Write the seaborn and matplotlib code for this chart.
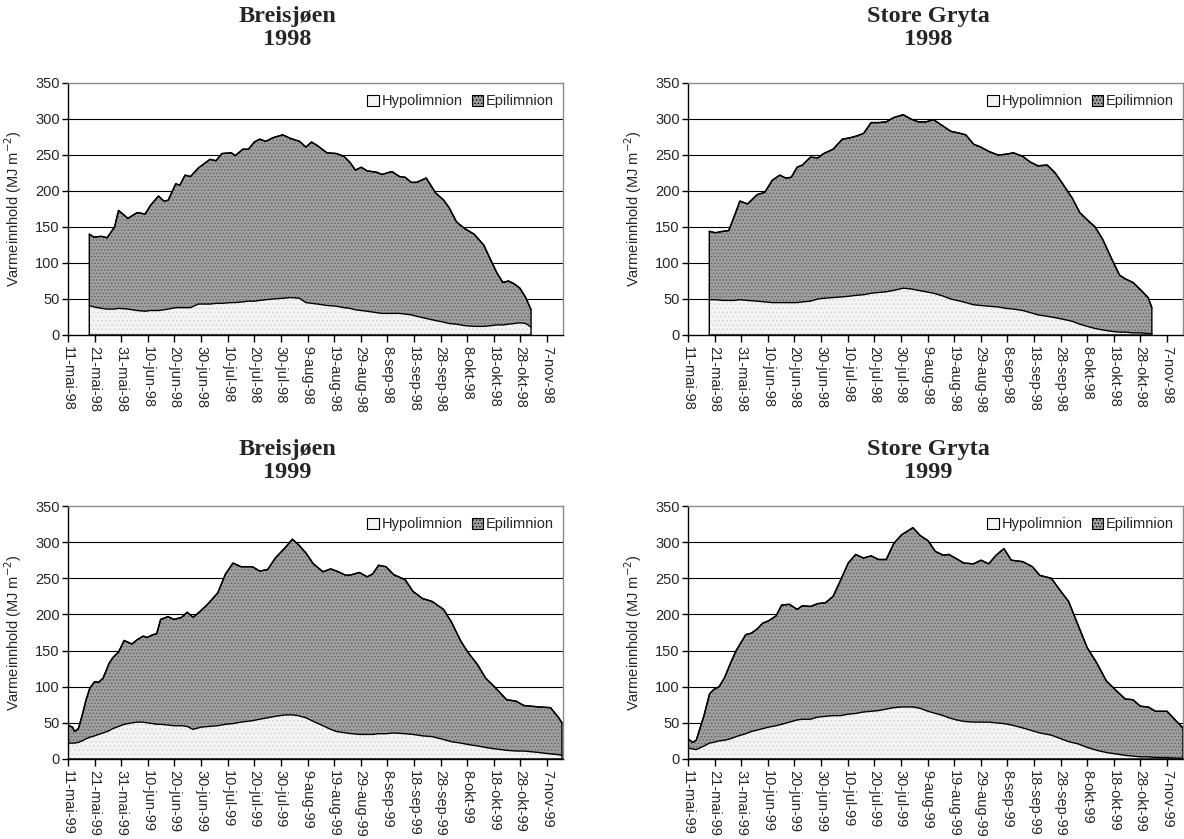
import numpy as np
import pandas as pd
import matplotlib
matplotlib.use('Agg')
import matplotlib.pyplot as plt
from matplotlib.patches import Patch
import seaborn as sns

# Dager etter 11. mai, samlet varmeinnhold (total) og hypolimnion
bre98_dag = [8, 9.7, 12.6, 14.7, 17.5, 19, 22.5, 26, 29, 31, 34, 36, 37.6, 40.5, 42, 44, 46, 49,
             53.4, 55.6, 57.8, 61.4, 62.8, 65.7, 67.8, 70, 72, 74.3, 77, 80.7, 83.6, 87, 89.4,
             91.5, 93.7, 97.3, 100.9, 103.7, 105.9, 108, 110.2, 112.4, 116, 118, 121.7, 124.6,
             126.7, 129, 131, 134.6, 138.2, 141, 143.2, 146, 149, 152.6, 156.2, 159, 161.2,
             163.4, 165.5, 167.7, 169.8, 172, 174]
bre98_total = [140, 136, 137, 135, 150, 173, 162, 170, 168, 180, 193, 186, 187, 210, 208, 222, 220,
               232, 244, 242, 252, 253, 249, 258, 258, 268, 272, 269, 274, 278, 273, 269, 261,
               268, 263, 253, 252, 248, 240, 229, 233, 228, 226, 223, 227, 220, 219, 212, 212,
               218, 197, 188, 177, 157, 148, 140, 125, 103, 86, 73, 75, 71, 65, 52, 35]
bre98_hypo = [41, 39, 37, 36, 36, 37, 36, 34, 33, 34, 34, 35, 36, 38, 38, 38, 38, 43, 43, 44, 44,
              45, 45, 46, 47, 47, 48, 49, 50, 51, 52, 51, 45, 44, 43, 41, 40, 38, 37, 35, 34, 33,
              31, 30, 30, 30, 29, 28, 26, 23, 20, 18, 16, 15, 13, 12, 12, 13, 14, 14, 15, 16, 17,
              16, 11]

sg98_dag = [8, 10.3, 13.1, 15.3, 17.4, 19.5, 22.4, 26, 28.8, 31.7, 34.5, 36.7, 38.8, 41, 43, 46,
            48.8, 51, 54.5, 58, 61, 63, 66, 68.8, 71.6, 74.5, 77.3, 80.9, 83.7, 86.6, 89.4, 92.3,
            95.9, 98.7, 102.3, 104.4, 107.3, 110, 113, 116.5, 119.4, 122.3, 125.8, 128.7, 131.5,
            135, 138, 140.8, 144.4, 147.2, 150, 153, 155.8, 159.3, 162.2, 164.3, 167.2, 170,
            172.9, 174.3]
sg98_total = [144, 142, 144, 145, 165, 186, 182, 195, 198, 215, 222, 218, 219, 233, 236, 247, 246,
              252, 258, 272, 274, 276, 280, 295, 295, 296, 302, 306, 300, 296, 296, 299, 290,
              283, 280, 278, 265, 261, 255, 250, 251, 253, 248, 240, 235, 236, 225, 210, 190,
              170, 160, 150, 133, 105, 83, 78, 73, 63, 52, 38]
sg98_hypo = [49, 49, 48, 48, 48, 49, 48, 47, 46, 45, 45, 45, 45, 45, 46, 47, 50, 51, 52, 53, 54,
             55, 56, 58, 59, 60, 62, 65, 64, 62, 60, 58, 54, 50, 47, 45, 42, 41, 40, 39, 37, 36,
             34, 31, 28, 26, 24, 22, 19, 15, 12, 9, 7, 5, 4, 4, 3, 3, 2, 2]

bre99_dag = [0, 1.7, 2.5, 3.9, 5.3, 6.8, 8.2, 10, 11.5, 13.2, 15.4, 16.8, 19, 21.1, 24, 26, 28.3,
             29.7, 31.9, 33.3, 34.8, 37.6, 39.8, 42.7, 44.8, 47, 49.9, 52.7, 56.3, 59.2, 62, 65,
             69.3, 72, 75, 77.9, 81.5, 84.3, 86.5, 89.4, 92.2, 95.8, 98.7, 100.9, 104.5, 106.6,
             109.5, 112.4, 114.5, 116.7, 119.5, 122.4, 126.7, 129.6, 133.2, 136.8, 141.1, 144,
             147.6, 150.4, 154, 156.9, 160.5, 164.8, 168.4, 171.3, 174.1, 177, 181.3, 184.2,
             185.6]
bre99_total = [47, 44, 38, 42, 60, 82, 98, 107, 106, 112, 132, 140, 148, 164, 159, 165, 170, 168,
               172, 173, 193, 197, 193, 196, 203, 196, 205, 215, 230, 256, 271, 266, 266, 260,
               262, 278, 292, 304, 297, 285, 270, 259, 263, 260, 254, 255, 258, 252, 256, 268,
               266, 255, 248, 232, 222, 218, 207, 190, 163, 147, 130, 112, 99, 82, 80, 74, 73,
               72, 71, 58, 50]
bre99_hypo = [22, 22, 22, 23, 25, 28, 30, 32, 34, 36, 39, 42, 45, 48, 50, 51, 51, 50, 49, 48, 48,
              47, 46, 46, 45, 41, 44, 45, 46, 48, 49, 51, 53, 55, 57, 59, 61, 61, 60, 57, 52, 46,
              41, 38, 36, 35, 34, 34, 34, 35, 35, 36, 35, 34, 32, 31, 27, 24, 22, 20, 18, 16,
              14, 12, 11, 11, 10, 9, 7, 6, 5]

sg99_dag = [0, 1.7, 3.1, 6, 8.1, 9.6, 11.7, 13.8, 16, 18.1, 21.7, 23.8, 26, 28.1, 30.2, 33.1,
            35.2, 38.1, 41, 43, 46, 48.8, 51.6, 54.5, 57.3, 60.2, 63, 65.9, 68.8, 71.6, 74.5,
            77.3, 80.2, 84.5, 87.3, 90.2, 93, 95.9, 98, 100.9, 103.7, 107.3, 110.1, 113, 115.8,
            118.7, 121.5, 125.8, 129.4, 132.2, 136.5, 140.1, 143, 146.5, 150, 153.6, 157.2,
            160.8, 164.3, 167.2, 170, 172.9, 175.7, 180, 183.6, 186]
sg99_total = [28, 23, 26, 60, 90, 96, 100, 113, 133, 150, 172, 174, 180, 188, 191, 198, 213, 214,
              207, 212, 211, 215, 216, 225, 247, 271, 283, 278, 281, 276, 276, 298, 310, 320,
              309, 302, 287, 282, 283, 277, 271, 270, 275, 270, 282, 291, 275, 273, 266, 254,
              250, 232, 218, 186, 154, 133, 108, 95, 83, 82, 73, 72, 66, 66, 52, 43]
sg99_hypo = [15, 14, 13, 18, 22, 23, 25, 26, 28, 31, 35, 38, 40, 42, 44, 46, 48, 51, 54, 55, 55,
             58, 59, 60, 60, 62, 63, 65, 66, 67, 69, 71, 72, 72, 70, 66, 63, 60, 57, 54, 52, 51,
             51, 51, 50, 49, 47, 43, 39, 36, 33, 28, 24, 21, 16, 12, 9, 7, 5, 4, 3, 3, 2, 2, 1, 1]

tick_dager = list(range(0, 181, 10))
tick_dato = ['11-mai', '21-mai', '31-mai', '10-jun', '20-jun', '30-jun', '10-jul', '20-jul',
             '30-jul', '9-aug', '19-aug', '29-aug', '8-sep', '18-sep', '28-sep', '8-okt',
             '18-okt', '28-okt', '7-nov']

paneler = [
    ('Breisjøen', '1998', bre98_dag, bre98_total, bre98_hypo),
    ('Store Gryta', '1998', sg98_dag, sg98_total, sg98_hypo),
    ('Breisjøen', '1999', bre99_dag, bre99_total, bre99_hypo),
    ('Store Gryta', '1999', sg99_dag, sg99_total, sg99_hypo),
]

sns.set_theme(style='white')
plt.rcParams['font.family'] = ['Liberation Sans', 'DejaVu Sans']
plt.rcParams['hatch.linewidth'] = 0.6

epi_farge = '#a0a0a0'
hypo_farge = '#f4f4f4'

fig = plt.figure(figsize=(11.84, 8.39), dpi=100)
W, H = 1184, 839
# axes-posisjoner i piksler: venstre, høyre, topp, bunn
pos = [(68, 563, 83, 335), (688, 1183, 83, 335), (68, 563, 506, 759), (688, 1183, 506, 759)]
tittel_x = [287, 928, 287, 928]
tittel_y = [6, 6, 439, 439]

for i, (sjo, aar, dag, total, hypo) in enumerate(paneler):
    l, r, t, b = pos[i]
    ax = fig.add_axes([l / W, 1 - b / H, (r - l) / W, (b - t) / H])
    df = pd.DataFrame({'dag': dag, 'total': total, 'hypo': hypo})

    ax.fill_between(df['dag'], 0, df['hypo'], facecolor=hypo_farge, hatch='....',
                    edgecolor='#d4d4d4', linewidth=0, zorder=2)
    ax.fill_between(df['dag'], df['hypo'], df['total'], facecolor=epi_farge, hatch='.....',
                    edgecolor='#606060', linewidth=0, zorder=2)
    ax.fill_between(df['dag'], 0, df['total'], facecolor='none', edgecolor='black',
                    linewidth=1.0, zorder=3)
    sns.lineplot(data=df, x='dag', y='hypo', color='black', linewidth=1.0, ax=ax, zorder=3)
    sns.lineplot(data=df, x='dag', y='total', color='black', linewidth=1.0, ax=ax, zorder=3)

    ax.set_xlim(0, 186)
    ax.set_ylim(0, 350)
    ax.set_yticks(range(0, 351, 50))
    ax.set_yticklabels([str(v) for v in range(0, 351, 50)], fontsize=10.5)
    ax.set_xticks(tick_dager)
    ax.set_xticklabels([d + '-' + aar[2:] for d in tick_dato], rotation=270, fontsize=10.5)
    for yv in range(50, 301, 50):
        ax.axhline(yv, color='black', linewidth=0.8, zorder=1)
    ax.tick_params(axis='x', direction='out', length=5, width=1, color='black', pad=3, bottom=True)
    ax.tick_params(axis='y', direction='out', length=4, width=1, color='black', pad=2, left=True)
    for s in ['top', 'right']:
        ax.spines[s].set_color('#8c8c8c')
        ax.spines[s].set_linewidth(1)
    for s in ['left', 'bottom']:
        ax.spines[s].set_color('black')
        ax.spines[s].set_linewidth(1)
    ax.set_xlabel('')
    ax.set_ylabel('Varmeinnhold (MJ m$^{-2}$)', fontsize=10.5)
    ax.yaxis.set_label_coords(-0.088, 0.5)

    handles = [Patch(facecolor=hypo_farge, edgecolor='black', linewidth=0.8, label='Hypolimnion'),
               Patch(facecolor=epi_farge, hatch='.....', edgecolor='black', linewidth=0.8,
                     label='Epilimnion')]
    ax.legend(handles=handles, loc='upper right', ncol=2, frameon=False, fontsize=10.5,
              handlelength=0.8, handleheight=0.8, handletextpad=0.2, columnspacing=0.6,
              bbox_to_anchor=(1.0, 0.99), borderaxespad=0.2)

    fig.text(tittel_x[i] / W, 1 - tittel_y[i] / H, sjo + '\n' + aar, ha='center', va='top',
             fontsize=17.5, fontweight='bold', family='Liberation Serif', linespacing=1.1)

fig.savefig('out.png', dpi=100)
